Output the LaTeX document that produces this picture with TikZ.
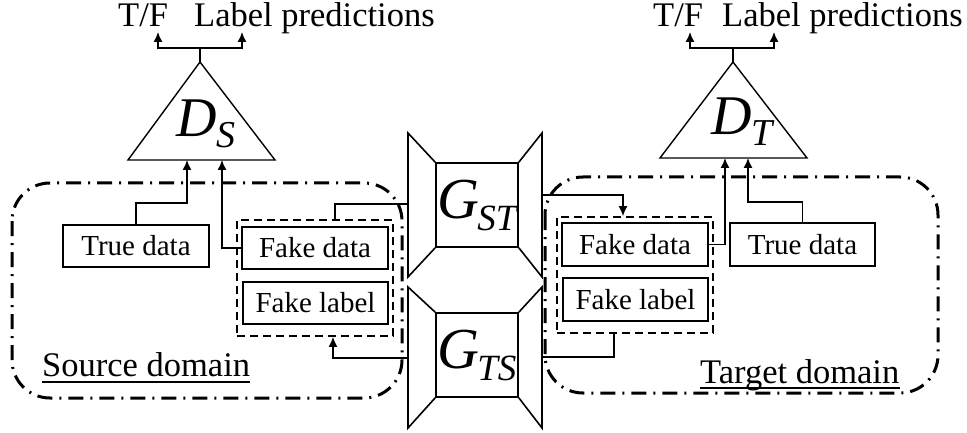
\documentclass[tikz,border=0pt]{standalone}
\usepackage{fontspec}
\setmainfont{Liberation Serif}
\usetikzlibrary{arrows.meta}
\begin{document}
\begin{tikzpicture}[x=1pt,y=-1pt,
  thinline/.style={line width=1.4pt},
  arr/.style={thinline,-{Latex[length=10pt,width=9pt]}},
  databox/.style={draw,thinline,minimum width=146pt,minimum height=42pt,inner sep=0pt,font=\fontsize{29}{29}\selectfont},
  groupbox/.style={draw,line width=1.8pt,dash pattern=on 8pt off 5pt,minimum width=156pt,minimum height=116pt,inner sep=0pt},
  domainbox/.style={line width=3pt,rounded corners=38pt,dash pattern=on 15pt off 7pt on 2pt off 7pt},
  toptext/.style={anchor=base west,inner sep=0pt,font=\fontsize{34.5}{35}\selectfont},
  domtext/.style={anchor=base west,inner sep=0pt,font=\fontsize{34.5}{35}\selectfont},
  uline/.style={line width=1.5pt},
  gen/.style={line width=1.6pt},
]
\useasboundingbox (0,0) rectangle (967,433);

% domains
\draw[domainbox] (12,183) rectangle (402,398);
\draw[domainbox] (545,177) rectangle (938,393);

% top labels
\node[toptext] (tfL) at (118,27) {T/F};
\node[toptext] (lpL) at (194,27) {Label predictions};
\node[toptext] (tfR) at (653,27) {T/F};
\node[toptext] (lpR) at (722,27) {Label predictions};

% discriminators
\coordinate (apexS) at (200,62);
\coordinate (apexT) at (733,62);
\draw[thinline] (apexS) -- (275,160) -- (128,160) -- cycle;
\draw[thinline] (apexT) -- (807,158) -- (660,158) -- cycle;
\node (DS) at (206,124) {\fontsize{56}{56}\selectfont\itshape D\kern-1pt\raisebox{-11pt}{\fontsize{38}{38}\selectfont S}};
\node (DT) at (742,122) {\fontsize{56}{56}\selectfont\itshape D\kern0pt\raisebox{-11pt}{\fontsize{38}{38}\selectfont T}};
\coordinate (dsb1) at (187,160);
\coordinate (dsb2) at (222,160);
\coordinate (dtb1) at (725,158);
\coordinate (dtb2) at (748,158);
\coordinate (tfLa) at (158,32);
\coordinate (lpLa) at (242,32);
\coordinate (tfRa) at (690,32);
\coordinate (lpRa) at (774,32);
\draw[arr] (apexS) -- ++(0,-14) -| (tfLa);
\draw[arr] (apexS) -- ++(0,-14) -| (lpLa);
\draw[arr] (apexT) -- ++(0,-14) -| (tfRa);
\draw[arr] (apexT) -- ++(0,-14) -| (lpRa);

% generators
\node[draw,gen,minimum width=82pt,minimum height=84pt,inner sep=0pt] (GST) at (477,205) {};
\node[draw,gen,minimum width=82pt,minimum height=84pt,inner sep=0pt] (GTS) at (477,355) {};
\draw[gen] (GST.north west) -- (408,133) -- (408,277) -- (GST.south west);
\draw[gen] (GST.north east) -- (542,133) -- (542,277) -- (GST.south east);
\draw[gen] (GTS.north west) -- (408,287) -- (408,428) -- (GTS.south west);
\draw[gen] (GTS.north east) -- (542,287) -- (542,428) -- (GTS.south east);
\node at (GST) {\fontsize{58}{58}\selectfont\itshape G\kern-2pt\raisebox{-12pt}{\fontsize{37}{37}\selectfont ST}};
\node at (GTS) {\fontsize{58}{58}\selectfont\itshape G\kern-2pt\raisebox{-12pt}{\fontsize{37}{37}\selectfont TS}};
\coordinate (gstl) at (408,204);
\coordinate (gstr) at (542,195);
\coordinate (gtsl) at (408,358);
\coordinate (gtsr) at (542,357);

% source domain boxes
\node[databox] (tdL) at (136,246) {True data};
\node[databox] (fdL) at (315,248) {Fake data};
\node[databox,minimum width=145pt] (flL) at (315.5,303) {Fake label};
\node[groupbox] (dbL) at (315,278) {};

% target domain boxes
\node[databox,minimum height=43pt] (fdR) at (635,244.5) {Fake data};
\node[databox,minimum width=145pt,minimum height=43pt] (flR) at (635.5,299.5) {Fake label};
\node[groupbox] (dbR) at (635,275) {};
\node[databox,minimum width=145pt,minimum height=43pt] (tdR) at (802.5,244.5) {True data};

% connectors, source side
\draw[arr] (tdL.north) -- (tdL.north |- 0,203) -| (dsb1);
\draw[arr] (fdL.west) -| (dsb2);
\draw[thinline] (gstl) -| ([xshift=20pt]dbL.north);
\draw[arr] (gtsl) -| ([xshift=18pt]dbL.south);

% connectors, target side
\draw[arr] (gstr) -| ([xshift=-12pt]dbR.north);
\draw[arr] (fdR.east) -| (dtb1);
\draw[arr] (tdR.north) -- (tdR.north |- 0,202) -| (dtb2);
\draw[thinline] ([xshift=-21pt]dbR.south) |- (gtsr);

% domain labels
\node[domtext] (src) at (42,376) {Source domain};
\node[domtext] (tgt) at (700,383) {Target domain};
\draw[uline] ([yshift=-6pt]src.base west) -- ([yshift=-6pt]src.base east);
\draw[uline] ([yshift=-5pt]tgt.base west) -- ([yshift=-5pt]tgt.base east);
\end{tikzpicture}
\end{document}
